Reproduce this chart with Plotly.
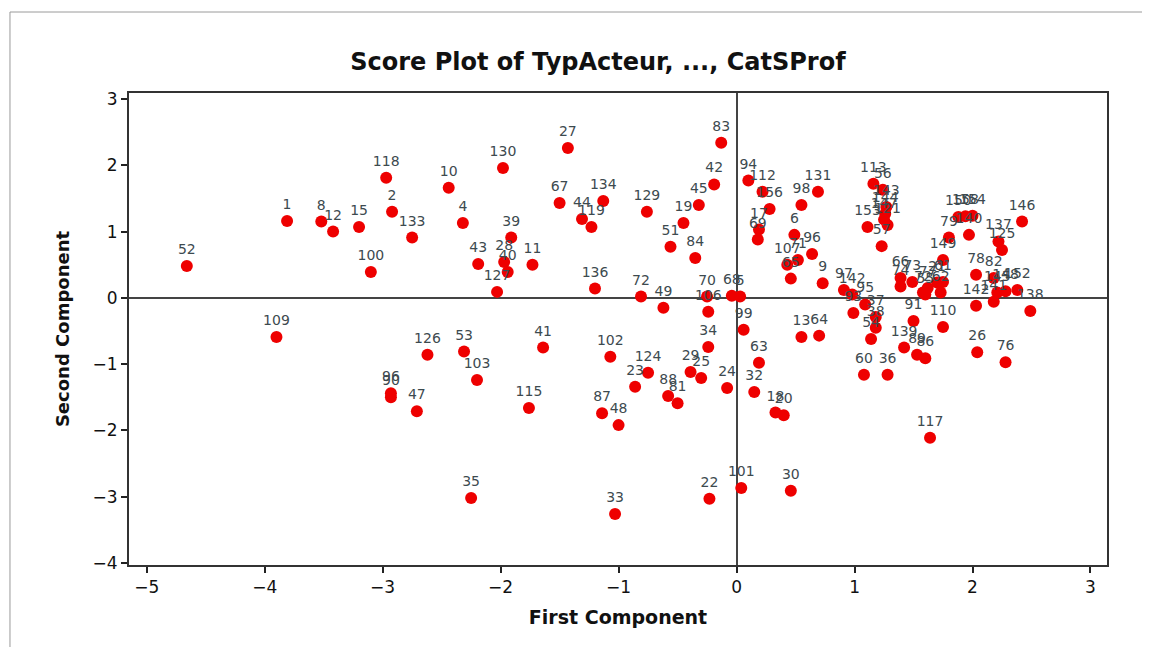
import plotly.graph_objects as go

labels = ["1","8","12","15","52","100","109","118","2","133","10","4","130","39","43","28","40","11","127",
          "27","67","44","119","134","136","126","53","103","41","96","90","47","115","87","102","48","35","33",
          "83","42","45","19","51","129","84","94","112","156","17","69","98","131","6","96b","107","71","65","9",
          "72","49","70","106","68","5","99","34","13","64","63","124","23","88","81","29","25","24","32","18","20",
          "22","101","30",
          "113","56","143","144","147","121","153","57","150","158","154","140","79","149","146","137","125",
          "78","82","145","148","152","138","141","142b","26","76","110","91","139","89","86","60","36","117",
          "37","38","54","97","142","95","93","66","74","73","72b","77","21","61","62","55"]
x_vals = [-3.81,-3.52,-3.42,-3.20,-4.66,-3.10,-3.90,-2.97,-2.92,-2.75,-2.44,-2.32,-1.98,-1.91,-2.19,-1.97,-1.94,-1.73,-2.03,
          -1.43,-1.50,-1.31,-1.23,-1.13,-1.20,-2.62,-2.31,-2.20,-1.64,-2.93,-2.93,-2.71,-1.76,-1.14,-1.07,-1.00,-2.25,-1.03,
          -0.13,-0.19,-0.32,-0.45,-0.56,-0.76,-0.35,0.10,0.22,0.28,0.19,0.18,0.55,0.69,0.49,0.64,0.43,0.52,0.46,0.73,
          -0.81,-0.62,-0.25,-0.24,-0.04,0.03,0.06,-0.24,0.55,0.70,0.19,-0.75,-0.86,-0.58,-0.50,-0.39,-0.30,-0.08,0.15,0.33,0.40,
          -0.23,0.04,0.46,
          1.16,1.24,1.27,1.26,1.25,1.28,1.11,1.23,1.88,1.94,2.00,1.97,1.80,1.75,2.42,2.22,2.25,
          2.03,2.18,2.21,2.28,2.38,2.49,2.18,2.03,2.04,2.28,1.75,1.50,1.42,1.53,1.60,1.08,1.28,1.64,
          1.18,1.18,1.14,0.91,0.98,1.09,0.99,1.39,1.39,1.49,1.58,1.62,1.70,1.75,1.73,1.60]
y_vals = [1.16,1.15,1.00,1.07,0.48,0.39,-0.59,1.81,1.30,0.91,1.66,1.13,1.96,0.91,0.51,0.54,0.39,0.50,0.09,
          2.26,1.43,1.19,1.07,1.46,0.14,-0.86,-0.81,-1.24,-0.75,-1.44,-1.50,-1.71,-1.66,-1.74,-0.89,-1.92,-3.02,-3.26,
          2.34,1.71,1.40,1.13,0.77,1.30,0.60,1.77,1.60,1.34,1.03,0.88,1.40,1.60,0.95,0.66,0.50,0.57,0.29,0.22,
          0.02,-0.15,0.02,-0.21,0.03,0.02,-0.48,-0.74,-0.59,-0.57,-0.98,-1.13,-1.34,-1.48,-1.59,-1.12,-1.21,-1.36,-1.42,-1.73,-1.77,
          -3.03,-2.87,-2.91,
          1.72,1.63,1.37,1.27,1.18,1.10,1.07,0.78,1.22,1.23,1.24,0.95,0.91,0.57,1.15,0.85,0.72,
          0.35,0.30,0.08,0.10,0.12,-0.20,-0.06,-0.12,-0.82,-0.97,-0.44,-0.35,-0.75,-0.86,-0.91,-1.16,-1.16,-2.11,
          -0.29,-0.45,-0.62,0.12,0.05,-0.10,-0.23,0.30,0.17,0.24,0.08,0.15,0.23,0.24,0.08,0.05]

x_ticks = [-5, -4, -3, -2, -1, 0, 1, 2, 3]
y_ticks = [-4, -3, -2, -1, 0, 1, 2, 3]

display = [l.rstrip("b") for l in labels]

fig = go.Figure()
fig.add_trace(go.Scatter(
    x=x_vals, y=y_vals, mode="markers+text", text=display,
    textposition="top center",
    textfont=dict(family="DejaVu Sans", size=14, color="#3d4a4f"),
    marker=dict(color="#ee0000", size=12, line=dict(width=0)),
    cliponaxis=False, hoverinfo="skip", showlegend=False))

fig.update_layout(
    width=1150, height=647,
    margin=dict(l=121, r=51, t=85, b=90),
    paper_bgcolor="white", plot_bgcolor="white",
    title=dict(text="<b>Score Plot of TypActeur, ..., CatSProf</b>", x=0.513, xanchor="center",
               y=0.917, yanchor="middle",
               font=dict(family="DejaVu Sans", size=24, color="#111")),
    xaxis=dict(range=[-5.15, 3.14], tickvals=x_ticks, ticks="outside", ticklen=6, tickwidth=2,
               tickcolor="#222", showgrid=False, zeroline=True, zerolinecolor="#444", zerolinewidth=2,
               showline=True, linecolor="#333", linewidth=2, mirror=True,
               tickfont=dict(family="DejaVu Sans", size=17, color="#111"),
               title=dict(text="<b>First Component</b>", standoff=14,
                          font=dict(family="DejaVu Sans", size=19, color="#111"))),
    yaxis=dict(range=[-4.03, 3.09], tickvals=y_ticks, ticks="outside", ticklen=6, tickwidth=2,
               tickcolor="#222", showgrid=False, zeroline=True, zerolinecolor="#444", zerolinewidth=2,
               showline=True, linecolor="#333", linewidth=2, mirror=True,
               tickfont=dict(family="DejaVu Sans", size=17, color="#111"),
               title=dict(text="<b>Second Component</b>", standoff=18,
                          font=dict(family="DejaVu Sans", size=18, color="#111"))),
    shapes=[
        dict(type="line", xref="paper", yref="paper", x0=-0.1217, x1=-0.1217, y0=-0.2, y1=1.1716,
             line=dict(color="#9a9a9a", width=1)),
        dict(type="line", xref="paper", yref="paper", x0=-0.1217, x1=1.06, y0=1.1716, y1=1.1716,
             line=dict(color="#9a9a9a", width=1)),
    ],
)

fig.write_html("out.html")
